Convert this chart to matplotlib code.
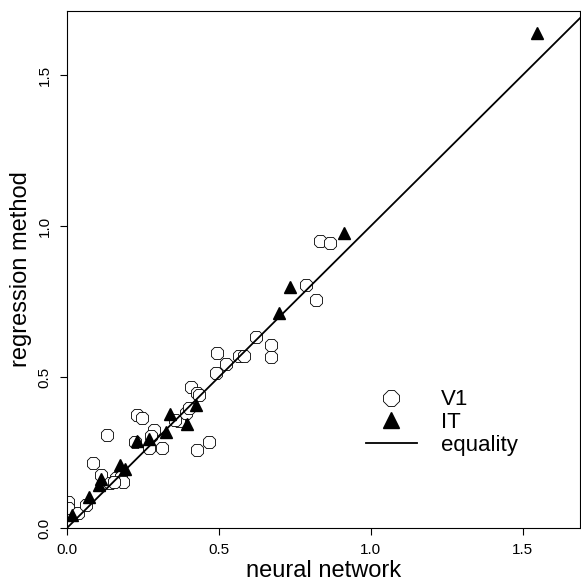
import numpy as np
import matplotlib.pyplot as plt

plt.rcParams['font.family'] = ['Liberation Sans', 'DejaVu Sans']

# V1 cells: neural network estimate vs regression estimate
v1_nn = [0.002, 0.002, 0.035, 0.064, 0.087, 0.113, 0.140, 0.133, 0.163, 0.179,
         0.183, 0.156, 0.232, 0.248, 0.271, 0.288, 0.278, 0.314, 0.370, 0.393,
         0.403, 0.409, 0.429, 0.429, 0.469, 0.492, 0.495, 0.525, 0.567, 0.584,
         0.623, 0.673, 0.673, 0.788, 0.821, 0.834, 0.867, 0.357, 0.436, 0.225]
v1_reg = [0.086, 0.066, 0.050, 0.076, 0.215, 0.175, 0.149, 0.308, 0.166, 0.169,
          0.152, 0.152, 0.374, 0.364, 0.265, 0.325, 0.305, 0.265, 0.354, 0.381,
          0.397, 0.467, 0.447, 0.258, 0.285, 0.513, 0.579, 0.543, 0.570, 0.570,
          0.632, 0.606, 0.566, 0.805, 0.755, 0.950, 0.944, 0.358, 0.440, 0.285]

# IT cells
it_nn = [0.015, 0.074, 0.104, 0.113, 0.173, 0.192, 0.229, 0.271, 0.327, 0.340,
         0.396, 0.426, 0.699, 0.735, 0.913, 1.548]
it_reg = [0.043, 0.103, 0.142, 0.162, 0.209, 0.195, 0.288, 0.295, 0.318, 0.377,
          0.344, 0.407, 0.712, 0.798, 0.977, 1.639]

ticks = [0.0, 0.5, 1.0, 1.5]
tick_labels = ['0.0', '0.5', '1.0', '1.5']

fig = plt.figure(figsize=(5.81, 5.86), dpi=100)
ax = fig.add_axes([0.1153, 0.099, 0.883, 0.882])

ax.plot(v1_nn, v1_reg, linestyle='none', marker='8', markersize=10,
        markerfacecolor='white', markeredgecolor='black', markeredgewidth=0.6,
        label='V1')
ax.plot(it_nn, it_reg, linestyle='none', marker='^', markersize=9,
        color='black', label='IT')
lims = np.array([0.0, 1.75])
ax.plot(lims, lims, color='black', linewidth=1.3, label='equality')

ax.set_xlim(0, 1.689)
ax.set_ylim(0, 1.712)
ax.set_xticks(ticks)
ax.set_xticklabels(tick_labels)
ax.set_yticks(ticks)
ax.set_yticklabels(tick_labels, rotation=90, va='center')
ax.tick_params(labelsize=11, length=5, width=0.8, pad=6)

ax.set_xlabel('neural network', fontsize=17, labelpad=2)
ax.set_ylabel('regression method', fontsize=17, labelpad=4)

ax.legend(loc='upper left', bbox_to_anchor=(0.582, 0.268), frameon=False,
          fontsize=16, handlelength=2.3, handletextpad=1.1,
          labelspacing=0.07, borderpad=0, borderaxespad=0, markerscale=1.3)

fig.savefig('out.png', dpi=100)
